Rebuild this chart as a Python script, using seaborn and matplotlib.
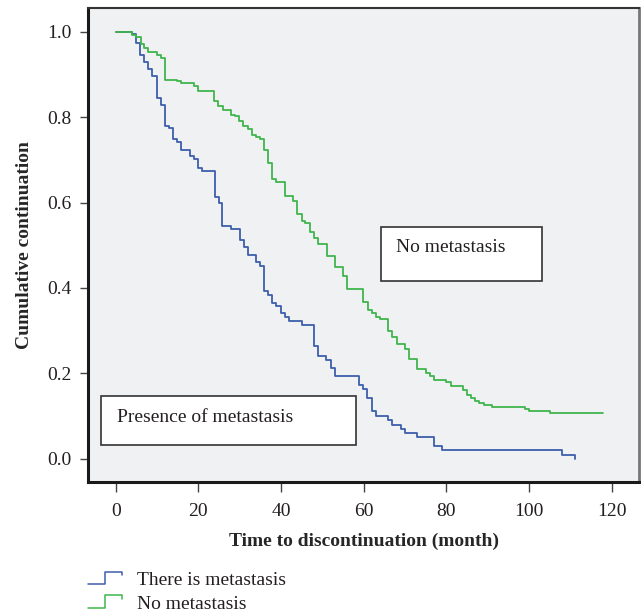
import pandas as pd
import matplotlib
matplotlib.use("Agg")
import matplotlib.pyplot as plt
from matplotlib.lines import Line2D
from matplotlib.patches import Rectangle
from matplotlib.legend_handler import HandlerBase
import seaborn as sns

# Kaplan-Meier style step data (time in months, cumulative continuation)
meta_time = [0, 3.9, 4.8, 5.8, 6.8, 7.9, 8.9, 9.9, 10.9, 11.9, 12.9, 13.9, 14.8, 15.8,
             17.9, 18.9, 19.9, 20.9, 24, 25, 25.8, 28, 30, 31, 32, 33.9, 34.9, 35.9,
             36.9, 37.9, 38.9, 40, 40.9, 42, 45, 47.9, 49, 50.8, 52, 53, 58.9, 59.9,
             60.9, 61.9, 62.9, 65.9, 66.9, 68.9, 70, 73, 77, 78.9, 107.9, 111]
meta_surv = [1.0, 0.995, 0.975, 0.946, 0.930, 0.913, 0.897, 0.846, 0.829, 0.780, 0.774,
             0.749, 0.742, 0.723, 0.710, 0.702, 0.681, 0.674, 0.614, 0.599, 0.545, 0.538,
             0.513, 0.495, 0.478, 0.460, 0.452, 0.392, 0.384, 0.366, 0.358, 0.341, 0.331,
             0.323, 0.314, 0.263, 0.241, 0.232, 0.212, 0.193, 0.173, 0.163, 0.142, 0.111,
             0.101, 0.091, 0.080, 0.070, 0.060, 0.051, 0.030, 0.021, 0.009, 0.0]

nometa_time = [0, 3.9, 5, 6, 6.9, 7.9, 9.9, 10.9, 11.9, 14.8, 15.8, 18.9, 19.9, 23.8,
               24.8, 25.9, 27.9, 28.9, 29.9, 30.9, 31.9, 32.9, 33.9, 34.9, 35.9, 36.9,
               37.9, 38.9, 40.9, 42.9, 43.9, 45, 45.9, 47, 47.9, 49, 51, 53, 55, 56,
               59.9, 61, 61.9, 62.9, 63.9, 65.9, 66.9, 68, 70, 71, 73, 75, 76, 77, 80,
               81, 84, 85, 86, 87, 88, 89, 91, 99, 100, 105, 118]
nometa_surv = [1.0, 0.993, 0.987, 0.971, 0.963, 0.954, 0.945, 0.940, 0.888, 0.885, 0.881,
               0.874, 0.862, 0.838, 0.827, 0.817, 0.806, 0.802, 0.792, 0.780, 0.772, 0.759,
               0.753, 0.749, 0.724, 0.694, 0.655, 0.649, 0.616, 0.603, 0.573, 0.556, 0.552,
               0.532, 0.518, 0.504, 0.475, 0.450, 0.427, 0.398, 0.367, 0.349, 0.341, 0.333,
               0.328, 0.300, 0.285, 0.268, 0.258, 0.233, 0.211, 0.202, 0.194, 0.184, 0.180,
               0.170, 0.160, 0.150, 0.142, 0.135, 0.130, 0.126, 0.120, 0.116, 0.112, 0.108,
               0.108]

groups = ["There is metastasis", "No metastasis"]
colors = ["#3d5eab", "#3fb54c"]
x_ticks = [0, 20, 40, 60, 80, 100, 120]
y_ticks = [0.0, 0.2, 0.4, 0.6, 0.8, 1.0]

df = pd.concat([
    pd.DataFrame({"time": meta_time, "surv": meta_surv, "group": groups[0]}),
    pd.DataFrame({"time": nometa_time, "surv": nometa_surv, "group": groups[1]}),
])

sns.set_style("ticks")
plt.rcParams["font.family"] = ["Liberation Serif", "DejaVu Serif"]
plt.rcParams["text.color"] = "#231f20"

fig = plt.figure(figsize=(6.41, 6.16), dpi=100)
ax = fig.add_axes([0.1373, 0.2175, 0.8596, 0.7695])
ax.set_facecolor("#f0f1f3")

sns.lineplot(data=df, x="time", y="surv", hue="group", palette=colors,
             drawstyle="steps-post", estimator=None, linewidth=1.3,
             legend=False, ax=ax)

ax.set_xlim(-6.7, 126.6)
ax.set_ylim(-0.0546, 1.056)
ax.set_xticks(x_ticks)
ax.set_yticks(y_ticks)
ax.set_yticklabels([f"{v:.1f}" for v in y_ticks])
ax.tick_params(axis="x", length=7, width=1, color="#444", labelsize=14,
               labelcolor="#231f20", pad=8)
ax.tick_params(axis="y", length=6, width=1, color="#444", labelsize=14,
               labelcolor="#231f20", pad=6)

ax.set_xlabel("Time to discontinuation (month)", fontsize=14, fontweight="bold", labelpad=9)
ax.set_ylabel("Cumulative continuation", fontsize=14, fontweight="bold", labelpad=10)

for side in ["left", "bottom"]:
    ax.spines[side].set_linewidth(2.2)
    ax.spines[side].set_color("#1a1a1a")
ax.spines["top"].set_linewidth(1.5)
ax.spines["top"].set_color("#333")
ax.spines["right"].set_linewidth(2)
ax.spines["right"].set_color("#777")

# annotation boxes
ax.add_patch(Rectangle((64.3, 0.4155), 38.8, 0.1275, facecolor="white",
                       edgecolor="#333", linewidth=1.2, zorder=3))
ax.text(67.8, 0.494, "No metastasis", fontsize=14, va="center", ha="left", zorder=4)
ax.add_patch(Rectangle((-3.45, 0.033), 61.55, 0.115, facecolor="white",
                       edgecolor="#333", linewidth=1.2, zorder=3))
ax.text(0.2, 0.097, "Presence of metastasis", fontsize=14, va="center", ha="left", zorder=4)


class StepHandler(HandlerBase):
    def create_artists(self, legend, orig_handle, xdescent, ydescent,
                       width, height, fontsize, trans):
        x0, y0 = -xdescent, -ydescent
        xs = [x0, x0 + 0.5 * width, x0 + 0.5 * width, x0 + width, x0 + width]
        ys = [y0, y0, y0 + height, y0 + height, y0 + 0.75 * height]
        line = Line2D(xs, ys, color=orig_handle.get_color(), linewidth=1.1, transform=trans)
        return [line]


handles = [Line2D([], [], color=c) for c in colors]
fig.legend(handles, groups, handler_map={Line2D: StepHandler()},
           loc="upper left", bbox_to_anchor=(0.1374, 0.072), frameon=False,
           fontsize=14, handlelength=1.75, handleheight=0.6, handletextpad=0.75,
           labelspacing=0.35, borderaxespad=0, borderpad=0)

fig.savefig("out.png", dpi=100, facecolor="white")
